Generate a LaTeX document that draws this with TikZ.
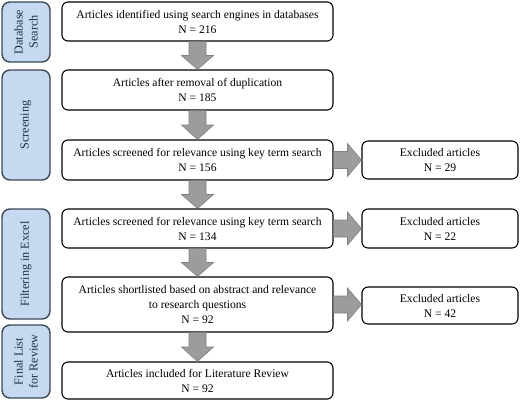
\documentclass[tikz,border=0pt]{standalone}
\usepackage{fontspec}
\setmainfont{Liberation Serif}
\usetikzlibrary{calc}
\definecolor{sideblue}{HTML}{C6D9F1}
\definecolor{sideline}{HTML}{3B4856}
\definecolor{sidetext}{HTML}{1F2F45}
\definecolor{arrfill}{HTML}{9C9C9C}
\definecolor{arrline}{HTML}{808080}
\newcommand\gdown[2]{%
  \path (#1.south) coordinate (ga) (#2.north) coordinate (gb) ($(ga)!0.5!(gb)$) coordinate (gm);
  \filldraw[garrow] ($(ga)+(-8.5,0)$) -- ($(ga)+(8.5,0)$) -- ($(gm)+(8.5,0)$) -- ($(gm)+(16,0)$) -- (gb) -- ($(gm)+(-16,0)$) -- ($(gm)+(-8.5,0)$) -- cycle;}
\newcommand\gright[2]{%
  \path (#1.east) coordinate (ga) (#2.west |- ga) coordinate (gb) ($(ga)!0.5!(gb)$) coordinate (gm);
  \filldraw[garrow] ($(ga)+(0,-8.5)$) -- ($(ga)+(0,8.5)$) -- ($(gm)+(0,8.5)$) -- ($(gm)+(0,16.5)$) -- (gb) -- ($(gm)+(0,-16.5)$) -- ($(gm)+(0,-8.5)$) -- cycle;}
\begin{document}
\begin{tikzpicture}[x=1pt,y=-1pt,
  mainbox/.style={draw=black, line width=1.1pt, rounded corners=6pt, fill=white, align=center, inner sep=0pt, font=\fontsize{11.6}{15}\selectfont, minimum width=#1},
  mainbox/.default=271pt,
  sidebox/.style={draw=sideline, line width=1.4pt, rounded corners=8pt, fill=sideblue, align=center, inner sep=0pt, rotate=90, font=\fontsize{12.2}{15}\selectfont, text=sidetext, minimum height=48pt},
  garrow/.style={fill=arrfill, draw=arrline, line width=0.6pt}]
\useasboundingbox (0,0) rectangle (520,402);
% side labels
\node[sidebox, minimum width=60pt] (L1) at (26,32) {Database\\Search};
\node[sidebox, minimum width=110pt] (L2) at (26,125) {Screening};
\node[sidebox, minimum width=110pt] (L3) at (26,264) {Filtering in Excel};
\node[sidebox, minimum width=73pt] (L4) at (26,361.5) {Final List\\for Review};
% main column
\node[mainbox, minimum height=39pt] (B1) at (197.5,21.5) {Articles identified using search engines in databases\\N = 216};
\node[mainbox, minimum height=40pt] (B2) at (197.5,90) {Articles after removal of duplication\\N = 185};
\node[mainbox, minimum height=40pt] (B3) at (197.5,160) {Articles screened for relevance using key term search\\N = 156};
\node[mainbox, minimum height=39pt] (B4) at (197.5,228.5) {Articles screened for relevance using key term search\\N = 134};
\node[mainbox, minimum height=55pt] (B5) at (197.5,304.5) {Articles shortlisted based on abstract and relevance\\to research questions\\N = 92};
\node[mainbox, minimum height=37pt] (B6) at (197.5,380.5) {Articles included for Literature Review\\N = 92};
% excluded
\node[mainbox=156pt, minimum height=38pt] (E1) at (440,160) {Excluded articles\\N = 29};
\node[mainbox=156pt, minimum height=39pt] (E2) at (440,228.5) {Excluded articles\\N = 22};
\node[mainbox=156pt, minimum height=37pt] (E3) at (440,305.5) {Excluded articles\\N = 42};
% arrows
\gdown{B1}{B2}
\gdown{B2}{B3}
\gdown{B3}{B4}
\gdown{B4}{B5}
\gdown{B5}{B6}
\gright{B3}{E1}
\gright{B4}{E2}
\gright{B5}{E3}
\end{tikzpicture}
\end{document}
